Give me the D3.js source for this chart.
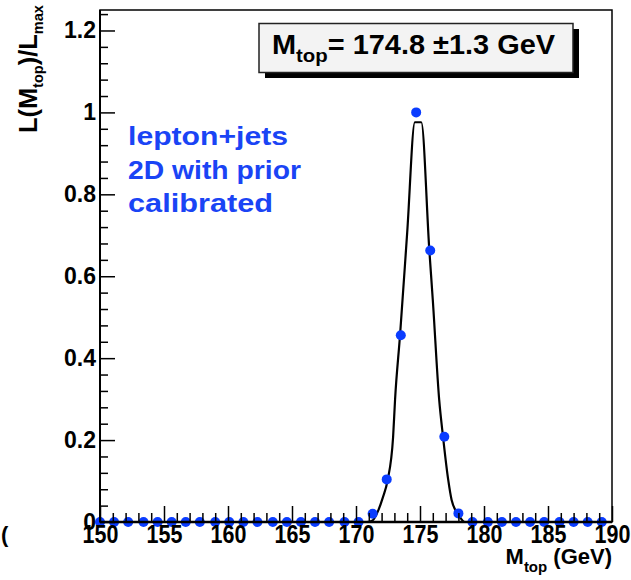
<!DOCTYPE html>
<html>
<head>
<meta charset="utf-8">
<script src="https://cdn.jsdelivr.net/npm/d3@7/dist/d3.min.js"></script>
<style>
  html, body { margin: 0; padding: 0; background: #fff; }
  svg { display: block; }
  text { font-family: "Liberation Sans", Arial, Helvetica, sans-serif; font-weight: bold; }
</style>
</head>
<body>
<svg id="chart" width="631" height="580"></svg>
<script>
// ---- data ----
const pointMass = [150.0, 151.1, 152.2, 153.4, 154.5, 155.6, 156.7, 157.8, 159.0, 160.1,
                   161.2, 162.3, 163.5, 164.6, 165.7, 166.8, 167.9, 169.1, 170.2, 171.3,
                   172.4, 173.5, 174.7, 175.8, 176.9, 178.0, 179.1, 180.3, 181.4, 182.5,
                   183.6, 184.7, 185.9, 187.0, 188.1, 189.2];
const pointL = [0, 0, 0, 0, 0, 0, 0, 0, 0, 0,
                0, 0, 0, 0, 0, 0, 0, 0, 0, 0.020,
                0.104, 0.456, 1.000, 0.663, 0.208, 0.021, 0, 0, 0, 0,
                0, 0, 0, 0, 0, 0];
const curveMass = [150.0, 170.8, 171.3, 171.75, 172.1, 172.47, 172.9, 173.05, 173.44, 174.0,
                   174.6, 175.1, 175.73, 176.0, 176.5, 176.8, 177.2, 177.47, 178.1, 178.5, 190.0];
const curveL = [0, 0, 0.004, 0.029, 0.060, 0.102, 0.208, 0.298, 0.456, 0.707,
                0.976, 0.976, 0.663, 0.542, 0.298, 0.208, 0.104, 0.054, 0.013, 0, 0];
const xMajorTicks = [150, 155, 160, 165, 170, 175, 180, 185, 190];
const yMajorTicks = [0, 0.2, 0.4, 0.6, 0.8, 1.0, 1.2];
const yTickLabels = ["0", "0.2", "0.4", "0.6", "0.8", "1", "1.2"];
const legendLines = ["lepton+jets", "2D with prior", "calibrated"];
const resultText = { main: "M", sub: "top", rest: "= 174.8 \u00b11.3 GeV" };

// ---- layout ----
const svg = d3.select("#chart");
const L = 100, R = 612, T = 10, B = 522;
const x = d3.scaleLinear().domain([150, 190]).range([L, R]);
const y = d3.scaleLinear().domain([0, 1.25]).range([B, T]);

const xMinor = d3.range(150, 190.001, 1).filter(v => v % 5 !== 0);
const yMinor = d3.range(0, 1.2401, 0.04).map(v => +v.toFixed(2))
                 .filter(v => Math.abs(v / 0.2 - Math.round(v / 0.2)) > 1e-6);

// curve
const line = d3.line().x((d, i) => x(curveMass[i])).y((d, i) => y(curveL[i]))
               .curve(d3.curveMonotoneX);
svg.append("path").datum(curveL).attr("d", line)
   .attr("fill", "none").attr("stroke", "#000").attr("stroke-width", 2.2);

// points
svg.append("g").selectAll("circle").data(pointL).join("circle")
   .attr("cx", (d, i) => x(pointMass[i])).attr("cy", d => y(d))
   .attr("r", 5).attr("fill", "#0a3cff");

// axes
const gx = svg.append("g").attr("transform", `translate(0,${B})`)
  .call(d3.axisBottom(x).tickValues(xMajorTicks).tickSize(-16).tickPadding(3.5).tickFormat(d3.format("d")));
svg.append("g").attr("transform", `translate(0,${B})`)
  .call(d3.axisBottom(x).tickValues(xMinor).tickSize(-9).tickFormat(""));
const gy = svg.append("g").attr("transform", `translate(${L},0)`)
  .call(d3.axisLeft(y).tickValues(yMajorTicks).tickSize(-15).tickPadding(4)
        .tickFormat((d, i) => yTickLabels[i]));
svg.append("g").attr("transform", `translate(${L},0)`)
  .call(d3.axisLeft(y).tickValues(yMinor).tickSize(-8).tickFormat(""));
svg.selectAll(".domain").remove();
svg.selectAll(".tick line").attr("stroke", "#000").attr("stroke-width", 1.5);
svg.selectAll(".tick text").attr("fill", "#000")
   .attr("font-family", "Liberation Sans, Arial, sans-serif").attr("font-weight", "bold");
gy.selectAll(".tick text").attr("font-size", 23);
gx.selectAll(".tick text").attr("font-size", 25)
   .attr("transform", function() { return `translate(${this.getAttribute("x") || 0},0) scale(0.86,1)`; });

// frame
svg.append("rect").attr("x", L).attr("y", T).attr("width", R - L).attr("height", B - T)
   .attr("fill", "none").attr("stroke", "#000").attr("stroke-width", 1.5);
svg.append("line").attr("x1", L).attr("x2", R).attr("y1", B).attr("y2", B)
   .attr("stroke", "#000").attr("stroke-width", 2.5);
svg.append("line").attr("x1", L).attr("x2", L).attr("y1", T).attr("y2", B)
   .attr("stroke", "#000").attr("stroke-width", 2);

// x title
const xt = svg.append("text").attr("x", R).attr("y", 564).attr("text-anchor", "end")
   .attr("font-size", 22);
xt.append("tspan").text("M");
xt.append("tspan").attr("font-size", 15).attr("dy", 8).text("top");
xt.append("tspan").attr("dy", -8).text(" (GeV)");

// y title
const yt = svg.append("text").attr("transform", "translate(37,133) rotate(-90)")
   .attr("font-size", 26).attr("textLength", 128).attr("lengthAdjust", "spacingAndGlyphs");
yt.append("tspan").text("L(M");
yt.append("tspan").attr("font-size", 15).attr("dy", 6).text("top");
yt.append("tspan").attr("dy", -6).text(")/L");
yt.append("tspan").attr("font-size", 15).attr("dy", 6).text("max");

// clipped glyph at left edge
svg.append("text").attr("x", 1).attr("y", 542).attr("font-size", 22).text("(");

// result box
svg.append("rect").attr("x", 265).attr("y", 29).attr("width", 314).attr("height", 49).attr("fill", "#000");
svg.append("rect").attr("x", 259).attr("y", 23.5).attr("width", 314).attr("height", 49)
   .attr("fill", "#f3f3f3").attr("stroke", "#222").attr("stroke-width", 1.5);
const rt = svg.append("text").attr("x", 272).attr("y", 54).attr("font-size", 27)
   .attr("textLength", 283).attr("lengthAdjust", "spacingAndGlyphs");
rt.append("tspan").text(resultText.main);
rt.append("tspan").attr("font-size", 19).attr("dy", 8).text(resultText.sub);
rt.append("tspan").attr("dy", -8).text(resultText.rest);

// blue labels
const lineWidths = [160, 173, 145];
const baselines = [145, 179, 212];
svg.append("g").selectAll("text").data(legendLines).join("text")
   .attr("x", 128).attr("y", (d, i) => baselines[i])
   .attr("font-size", 25).attr("fill", "#1a44f5")
   .attr("textLength", (d, i) => lineWidths[i]).attr("lengthAdjust", "spacingAndGlyphs")
   .text(d => d);
</script>
</body>
</html>
